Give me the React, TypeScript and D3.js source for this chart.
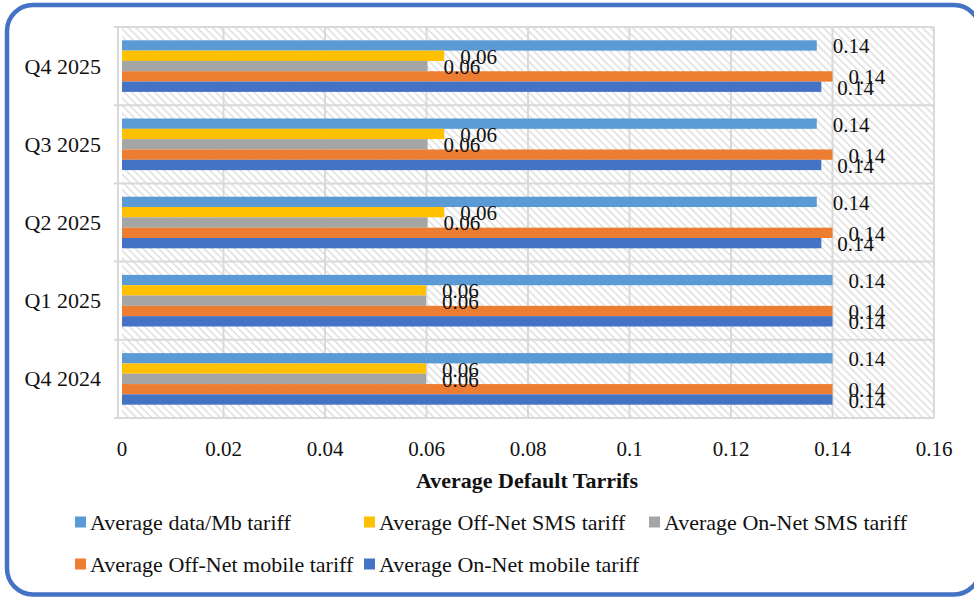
import React from 'react';
import * as d3 from 'd3';

const categories = ['Q4 2025', 'Q3 2025', 'Q2 2025', 'Q1 2025', 'Q4 2024'];
const seriesNames = [
  'Average data/Mb tariff',
  'Average Off-Net SMS tariff',
  'Average On-Net SMS tariff',
  'Average Off-Net mobile tariff',
  'Average On-Net mobile tariff',
];
const seriesColors = ['#5B9BD5', '#FFC000', '#A5A5A5', '#ED7D31', '#4472C4'];
const dataMb = [0.1369, 0.1369, 0.1369, 0.14, 0.14];
const offNetSms = [0.0635, 0.0635, 0.0635, 0.0599, 0.0599];
const onNetSms = [0.0602, 0.0602, 0.0602, 0.0599, 0.0599];
const offNetMobile = [0.14, 0.14, 0.14, 0.14, 0.14];
const onNetMobile = [0.1378, 0.1378, 0.1378, 0.14, 0.14];
const seriesValues = [dataMb, offNetSms, onNetSms, offNetMobile, onNetMobile];
const xTicks = [0, 0.02, 0.04, 0.06, 0.08, 0.1, 0.12, 0.14, 0.16];
const xTickLabels = ['0', '0.02', '0.04', '0.06', '0.08', '0.1', '0.12', '0.14', '0.16'];
const axisTitle = 'Average Default Tarrifs';

const W = 974;
const H = 598;
const FONT = '"Liberation Serif", "Times New Roman", serif';

export default function App() {
  const x = d3.scaleLinear().domain([0, 0.16]).range([122, 934]);
  const y0 = d3.scaleBand<string>().domain(categories).range([27, 418]).padding(0);
  const y1 = d3
    .scaleBand<number>()
    .domain(d3.range(seriesNames.length))
    .range([0, y0.bandwidth()])
    .paddingInner(0)
    .paddingOuter(1.29);
  const fmt = d3.format('.2f');
  const grid = '#D9D9D9';

  const legendPos = [
    [75, 522],
    [364, 522],
    [649, 522],
    [75, 564],
    [364, 564],
  ];

  const boundaries = categories.map((c) => y0(c) as number).concat([418]);

  return (
    <svg
      width={W}
      height={H}
      style={{ position: 'absolute', left: 0, top: 0, display: 'block' }}
      fontFamily={FONT}
    >
      <defs>
        <pattern
          id="hatch"
          patternUnits="userSpaceOnUse"
          width={5.4}
          height={5.4}
          patternTransform="rotate(-45)"
        >
          <rect width={5.4} height={5.4} fill="#ffffff" />
          <line x1={1} y1={0} x2={1} y2={5.4} stroke="#DEDEDE" strokeWidth={1.5} />
        </pattern>
      </defs>
      <rect x={0} y={0} width={W} height={H} fill="#ffffff" />
      <rect
        x={7}
        y={5}
        width={973}
        height={589.5}
        rx={26}
        ry={26}
        fill="#ffffff"
        stroke="#4472C4"
        strokeWidth={4.5}
      />

      {/* plot area */}
      <rect x={x(0)} y={27} width={x(0.16) - x(0)} height={391} fill="url(#hatch)" />
      {xTicks.slice(1).map((t) => (
        <line key={'g' + t} x1={x(t)} x2={x(t)} y1={27} y2={418} stroke={grid} strokeWidth={2} />
      ))}
      {boundaries.map((b, i) => (
        <line key={'h' + i} x1={114} x2={x(0.16)} y1={b} y2={b} stroke={grid} strokeWidth={2} />
      ))}
      <line x1={118} x2={118} y1={27} y2={418} stroke={grid} strokeWidth={2} />

      {/* bars */}
      {categories.map((c, ci) => (
        <g key={c} transform={`translate(0,${y0(c)})`}>
          {seriesValues.map((vals, si) => (
            <rect
              key={si}
              x={x(0)}
              y={y1(si) as number}
              width={x(vals[ci]) - x(0)}
              height={y1.bandwidth()}
              fill={seriesColors[si]}
            />
          ))}
        </g>
      ))}

      {/* data labels */}
      {categories.map((c, ci) => (
        <g key={'l' + c} transform={`translate(0,${y0(c)})`}>
          {seriesValues.map((vals, si) => (
            <text
              key={si}
              x={x(vals[ci]) + 16}
              y={(y1(si) as number) + y1.bandwidth() / 2 + 1}
              dominantBaseline="central"
              fontSize={21}
              fill="#111"
            >
              {fmt(vals[ci])}
            </text>
          ))}
        </g>
      ))}

      {/* category labels */}
      {categories.map((c) => (
        <text
          key={'c' + c}
          x={101}
          y={(y0(c) as number) + y0.bandwidth() / 2}
          textAnchor="end"
          dominantBaseline="central"
          fontSize={22}
          fill="#111"
        >
          {c}
        </text>
      ))}

      {/* x tick labels */}
      {xTicks.map((t, i) => (
        <text
          key={'t' + t}
          x={x(t)}
          y={449}
          textAnchor="middle"
          dominantBaseline="central"
          fontSize={21}
          fill="#111"
        >
          {xTickLabels[i]}
        </text>
      ))}

      <text
        x={527}
        y={480}
        textAnchor="middle"
        dominantBaseline="central"
        fontSize={22}
        fontWeight="bold"
        fill="#111"
      >
        {axisTitle}
      </text>

      {/* legend */}
      {seriesNames.map((n, i) => (
        <g key={'lg' + i} transform={`translate(${legendPos[i][0]},${legendPos[i][1]})`}>
          <rect x={0} y={-5.5} width={11} height={11} fill={seriesColors[i]} />
          <text x={15} y={0} dominantBaseline="central" fontSize={22} fill="#111">
            {n}
          </text>
        </g>
      ))}
    </svg>
  );
}
